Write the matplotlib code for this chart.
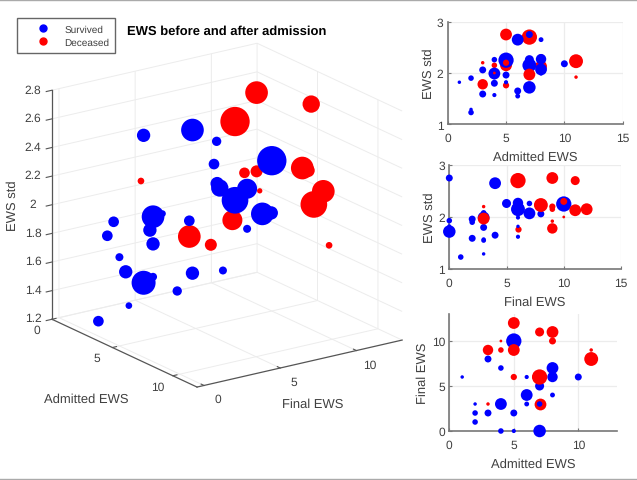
import numpy as np
import matplotlib
matplotlib.use("Agg")
import matplotlib.pyplot as plt
from matplotlib.lines import Line2D
from matplotlib.transforms import Affine2D

plt.rcParams["font.family"] = ["Liberation Sans", "DejaVu Sans"]
plt.rcParams["text.hinting"] = "no_hinting"
plt.rcParams["text.hinting_factor"] = 1
plt.rcParams["grid.color"] = "#ececec"
plt.rcParams["grid.linewidth"] = 0.7

# blue group
surv_adm = [1, 2, 2, 2, 3, 3, 4, 4, 4, 4, 4, 5, 5, 5, 6, 6, 6, 6, 7, 7, 7, 7, 7, 8, 8, 8, 8, 10]
surv_fin = [6, 3, 2, 1, 8, 2, 7, 3, 3, 3, 0, 10, 2, 0, 6, 4, 4, 3, 5, 3, 0, 0, 6, 7, 6, 6, 4, 6]
surv_std = [1.82, 1.29, 1.90, 1.23, 2.06, 1.59, 2.26, 1.99, 1.80, 1.57, 1.93, 2.25, 1.96, 1.82,
            1.62, 2.65, 1.65, 1.55, 2.26, 2.08, 1.72, 2.75, 2.15, 2.07, 2.27, 1.99, 2.65, 2.18]
surv_rad = [5, 5, 8, 8, 10, 10, 8, 17, 10, 6, 8, 22, 10, 6, 6, 17, 10, 7, 13, 8, 18, 10, 20, 17, 15, 6, 7, 10]

# red group
dec_adm = [3, 3, 4, 4, 5, 5, 5, 5, 7, 7, 7, 8, 8, 11, 11]
dec_fin = [9, 3, 10, 9, 12, 9, 9, 6, 11, 6, 3, 11, 10, 9, 8]
dec_std = [1.78, 2.20, 2.00, 2.15, 2.15, 2.75, 2.20, 1.76, 2.70, 2.70, 1.97, 2.13, 2.30, 1.92, 2.23]
dec_rad = [15, 5, 4, 8, 17, 17, 9, 9, 13, 22, 17, 17, 10, 5, 20]

# red points that sit underneath the blue ones in each small panel
under_adm_std = [3, 4, 7, 8, 9, 11, 12]
under_fin_std = [7]
under_adm_fin = [10]

x_ticks_3d = [0, 5, 10]
y_ticks_3d = [0, 5, 10]
z_ticks_3d = [1.2, 1.4, 1.6, 1.8, 2, 2.2, 2.4, 2.6, 2.8]
z_labels_3d = ["1.2", "1.4", "1.6", "1.8", "2", "2.2", "2.4", "2.6", "2.8"]

BLUE = "#0000ff"
RED = "#ff0000"
TXT = "#404040"
GRID = "#ececec"
W, H = 637, 481


def box(l, t, r, b):
    return [l / W, 1 - b / H, (r - l) / W, (b - t) / H]


def area(rad, k):
    return (np.array(rad, dtype=float) * k) ** 2


def nudge_tick_labels(axis, dx, dy):
    # Axis3D resets tick transforms in get_major_ticks, so shift them there
    orig = axis.get_major_ticks
    shift = axis.axes.transData + Affine2D().translate(dx, dy)

    def get_major_ticks(numticks=None):
        ticks = orig(numticks)
        for t in ticks:
            t.label1.set_transform(shift)
        return ticks

    axis.get_major_ticks = get_major_ticks


fig = plt.figure(figsize=(W / 100, H / 100), dpi=100)

# main 3d view
ax = fig.add_axes([12.4 / W, 50.2 / H, 418 / W, 418 / H], projection="3d", proj_type="ortho")
ax.patch.set_alpha(0)
ax.view_init(elev=19.1, azim=-35)
ax.set_box_aspect((252.8, 250.3, 242.3))
ax.scatter(surv_adm, surv_fin, surv_std, s=area(surv_rad, 0.96), c=BLUE, depthshade=False, linewidths=0)
ax.scatter(dec_adm, dec_fin, dec_std, s=area(dec_rad, 0.96), c=RED, depthshade=False, linewidths=0)
ax.set_xlim(0, 12)
ax.set_ylim(-0.46, 13)
ax.set_zlim(1.2, 2.8)
ax.set_xticks(x_ticks_3d)
ax.set_yticks(y_ticks_3d)
ax.set_zticks(z_ticks_3d)
ax.set_zticklabels(z_labels_3d)
for axis in (ax.xaxis, ax.yaxis, ax.zaxis):
    axis.set_pane_color((1, 1, 1, 0))
    axis.pane.set_edgecolor(GRID)
    axis.line.set_color("#555555")
    axis.line.set_linewidth(0.9)
    axis._axinfo["grid"].update(color=GRID, linewidth=0.7)
    axis._axinfo["tick"].update(inward_factor=0.0, outward_factor=0.25)
ax.zaxis._axinfo["tick"].update(inward_factor=0.35, outward_factor=0.0)
ax.zaxis.set_ticks_position("lower")
ax.tick_params(color="#555555", labelsize=8.3, labelcolor=TXT, pad=0)
nudge_tick_labels(ax.xaxis, -5, 9)
nudge_tick_labels(ax.yaxis, 6, 7)
nudge_tick_labels(ax.zaxis, -1, 5.5)

fig.text(86 / W, 1 - 400 / H, "Admitted EWS", fontsize=9.3, color=TXT, ha="center", va="center")
fig.text(313 / W, 1 - 405 / H, "Final EWS", fontsize=9.3, color=TXT, ha="center", va="center")
fig.text(13 / W, 1 - 206 / H, "EWS std", fontsize=9.3, color=TXT, rotation=90, ha="center", va="center")
fig.text(127 / W, 1 - 32 / H, "EWS before and after admission", fontsize=9.3, fontweight="bold",
         color="black", ha="left", va="center")

handles = [Line2D([], [], ls="none", marker="o", ms=5, color=BLUE, label="Survived"),
           Line2D([], [], ls="none", marker="o", ms=5, color=RED, label="Deceased")]
fig.legend(handles=handles, loc="upper left", bbox_to_anchor=(17.3 / W, 1 - 19 / H), fontsize=7.4,
           fancybox=False, edgecolor="#666666", framealpha=1, labelcolor=TXT, borderaxespad=0,
           handlelength=3.85, handletextpad=0.11, borderpad=0.6, labelspacing=0.4)


def side_panel(pos, bx, by, rb, rx, ry, rr, under, xlim, ylim, xticks, yticks, xlabel, ylabel):
    a = fig.add_axes(pos)
    rx, ry, rr = np.array(rx), np.array(ry), np.array(rr)
    low = np.zeros(len(rx), dtype=bool)
    low[under] = True
    a.scatter(rx[low], ry[low], s=area(rr[low], 0.5), c=RED, linewidths=0, zorder=2, clip_on=False)
    a.scatter(bx, by, s=area(rb, 0.5), c=BLUE, linewidths=0, zorder=3, clip_on=False)
    a.scatter(rx[~low], ry[~low], s=area(rr[~low], 0.5), c=RED, linewidths=0, zorder=4, clip_on=False)
    a.set_xlim(*xlim)
    a.set_ylim(*ylim)
    a.set_xticks(xticks)
    a.set_yticks(yticks)
    a.set_xlabel(xlabel, fontsize=9.3, color=TXT, labelpad=5)
    a.set_ylabel(ylabel, fontsize=9.3, color=TXT, labelpad=2)
    a.grid(True, color=GRID, linewidth=0.9)
    a.set_axisbelow(True)
    a.spines["top"].set_visible(False)
    a.spines["right"].set_visible(False)
    for s in ("left", "bottom"):
        a.spines[s].set_color("#777777")
        a.spines[s].set_linewidth(1.2)
    a.tick_params(labelsize=8.3, labelcolor=TXT, color="#777777", direction="in", length=2)
    a.tick_params(axis="x", pad=6)
    a.tick_params(axis="y", pad=3)
    return a


side_panel(box(447.7, 22.7, 622.7, 125.3), surv_adm, surv_std, surv_rad, dec_adm, dec_std, dec_rad,
           under_adm_std, (0, 15), (1, 3), [0, 5, 10, 15], [1, 2, 3], "Admitted EWS", "EWS std")
side_panel(box(449.3, 166, 621, 270), surv_fin, surv_std, surv_rad, dec_fin, dec_std, dec_rad,
           under_fin_std, (0, 15), (1, 3), [0, 5, 10, 15], [1, 2, 3], "Final EWS", "EWS std")
side_panel(box(449.3, 315, 617, 432), surv_adm, surv_fin, surv_rad, dec_adm, dec_fin, dec_rad,
           under_adm_fin, (0, 13), (0, 13), [0, 5, 10], [0, 5, 10], "Admitted EWS", "Final EWS")

# thin rules along the top and bottom edges
for yy in (0.5, 480):
    fig.add_artist(Line2D([0, 1], [1 - yy / H, 1 - yy / H], color="#aaaaaa", linewidth=1))

fig.savefig("out.png", dpi=100)
